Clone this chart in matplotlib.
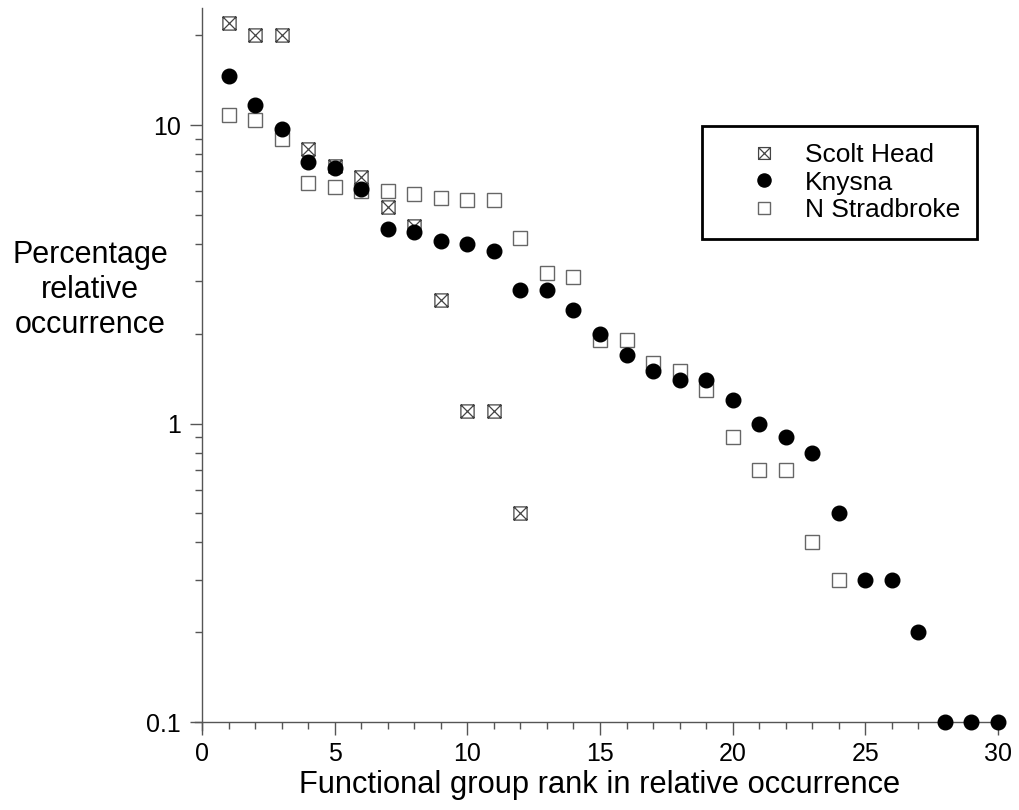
import numpy as np
import matplotlib
matplotlib.use('Agg')
import matplotlib.pyplot as plt
from matplotlib.path import Path
from matplotlib.ticker import LogLocator, FixedLocator, NullFormatter

plt.rcParams['font.family'] = ['Liberation Sans', 'DejaVu Sans']

# ranks
rank_scolt = [1, 2, 3, 4, 5, 6, 7, 8, 9, 10, 11, 12]
scolt_head = [22, 20, 20, 8.3, 7.3, 6.7, 5.3, 4.6, 2.6, 1.1, 1.1, 0.5]

rank_knysna = list(range(1, 31))
knysna = [14.6, 11.7, 9.7, 7.5, 7.2, 6.1, 4.5, 4.4, 4.1, 4.0,
          3.8, 2.8, 2.8, 2.4, 2.0, 1.7, 1.5, 1.4, 1.4, 1.2,
          1.0, 0.9, 0.8, 0.5, 0.3, 0.3, 0.2, 0.1, 0.1, 0.1]

rank_strad = list(range(1, 25))
stradbroke = [10.8, 10.4, 9.0, 6.4, 6.2, 6.0, 6.0, 5.9, 5.7, 5.6,
              5.6, 4.2, 3.2, 3.1, 1.9, 1.9, 1.6, 1.5, 1.3, 0.9,
              0.7, 0.7, 0.4, 0.3]

x_ticks = [0, 5, 10, 15, 20, 25, 30]
y_ticks = [0.1, 1, 10]
y_ticklabels = ['0.1', '1', '10']

# square with both diagonals
crossed_sq = Path(
    [(-1, -1), (1, -1), (1, 1), (-1, 1), (-1, -1),
     (-1, -1), (1, 1), (-1, 1), (1, -1)],
    [Path.MOVETO, Path.LINETO, Path.LINETO, Path.LINETO, Path.CLOSEPOLY,
     Path.MOVETO, Path.LINETO, Path.MOVETO, Path.LINETO])

fig = plt.figure(figsize=(10.19, 8.10), dpi=100)
ax = fig.add_axes([202 / 1019, 1 - 722 / 810, (998 - 202) / 1019, (722 - 8) / 810])

ax.plot(rank_scolt, scolt_head, linestyle='none', marker=crossed_sq, markersize=9.5,
        markerfacecolor='none', markeredgecolor='#444444', markeredgewidth=0.9,
        label='Scolt Head', clip_on=False, zorder=3)
ax.plot(rank_knysna, knysna, linestyle='none', marker='o', markersize=10.5,
        color='black', label='Knysna', clip_on=False, zorder=4)
ax.plot(rank_strad, stradbroke, linestyle='none', marker='s', markersize=9.5,
        markerfacecolor='none', markeredgecolor='#666666', markeredgewidth=1.0,
        label='N Stradbroke', clip_on=False, zorder=2)

ax.set_yscale('log')
ax.set_xlim(0, 30)
ax.set_ylim(0.1, 24.7)

ax.spines['top'].set_visible(False)
ax.spines['right'].set_visible(False)
for s in ('left', 'bottom'):
    ax.spines[s].set_color('#555555')
    ax.spines[s].set_linewidth(1.0)
# axes lines cross slightly at the origin
ax.spines['left'].set_bounds(0.094, 24.7)
ax.spines['bottom'].set_bounds(-0.25, 30)

ax.xaxis.set_major_locator(FixedLocator(x_ticks))
ax.xaxis.set_minor_locator(FixedLocator(range(0, 31)))
ax.set_xticklabels([str(v) for v in x_ticks], fontsize=18)
ax.tick_params(axis='x', which='major', direction='out', length=9.5, width=1, color='#555555', pad=5)
ax.tick_params(axis='x', which='minor', direction='out', length=5, width=1, color='#555555')

ax.yaxis.set_major_locator(FixedLocator(y_ticks))
ax.set_yticklabels(y_ticklabels, fontsize=18)
ax.yaxis.set_minor_locator(LogLocator(base=10, subs=np.arange(2, 10)))
ax.yaxis.set_minor_formatter(NullFormatter())
ax.tick_params(axis='y', which='major', direction='out', length=8.6, width=1, color='#555555', pad=6.5)
ax.tick_params(axis='y', which='minor', direction='out', length=5, width=1, color='#555555')

ax.set_xlabel('Functional group rank in relative occurrence', fontsize=22.2, labelpad=3)

fig.text(90 / 1019, 1 - 290 / 810, 'Percentage\nrelative\noccurrence',
         ha='center', va='center', fontsize=22, linespacing=1.2)

leg = ax.legend(loc='upper left', bbox_to_anchor=(702 / 1019, 1 - 126 / 810),
                bbox_transform=fig.transFigure, fontsize=19, frameon=True,
                fancybox=False, edgecolor='black', framealpha=1, borderpad=0.65,
                labelspacing=0.13, handletextpad=-0.15, markerscale=0.9,
                handlelength=3.4, borderaxespad=0)
leg.get_frame().set_linewidth(2)

fig.savefig('out.png', dpi=100)
